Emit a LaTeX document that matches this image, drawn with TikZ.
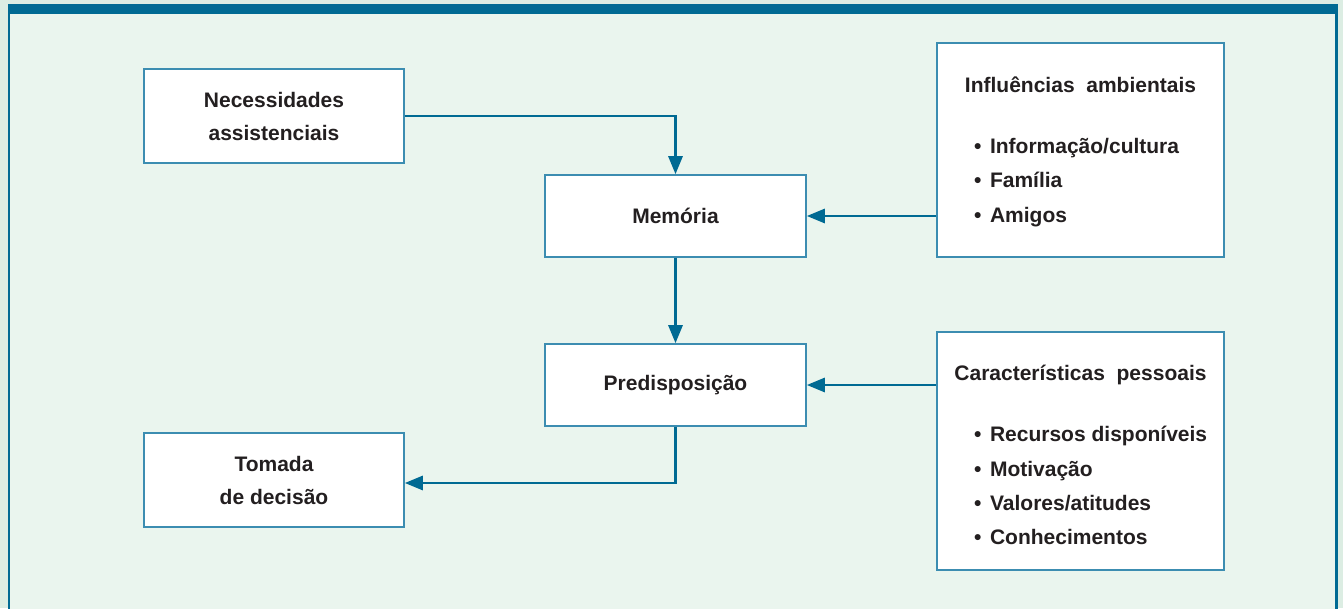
\documentclass[tikz,border=0pt]{standalone}
\usepackage{fontspec}
\setmainfont{Liberation Sans}
\usetikzlibrary{arrows.meta,positioning,calc}
\definecolor{colorLine}{HTML}{006A93}
\definecolor{colorBox}{HTML}{3C8DB1}
\definecolor{colorBg}{HTML}{EAF5EE}
\definecolor{colorOut}{HTML}{DCEDE3}
\definecolor{colorText}{HTML}{231F20}
\newcommand{\itm}[1]{•\hspace{8.5pt}#1}
\tikzset{
   every path/.style={>={Triangle[length=18pt,width=14pt]}},
   box/.style={draw=colorBox,line width=1.6pt,fill=white,align=center,inner sep=0pt},
   lab/.style={text=colorText,font=\bfseries\fontsize{21}{33}\selectfont,inner sep=0pt},
   flow/.style={->,color=colorLine,line width=2.8pt},
}

\begin{document}
\begin{tikzpicture}[x=1pt,y=-1pt]
      \useasboundingbox (0,0) rectangle (1343,608);
      % frame
      \fill[colorOut] (0,0) rectangle (1343,608);
      \fill[colorBg] (9,9) rectangle (1336.5,620);
      \draw[colorLine,line width=2.6pt] (9,620) -- (9,9) -- (1336.5,9) -- (1336.5,620);
      \fill[colorLine] (7.7,4) rectangle (1337.8,14);
      % boxes
      \node[box,lab,minimum width=260pt,minimum height=94pt] (nec) at (274,116) {Necessidades\\assistenciais};
      \node[box,lab,minimum width=261pt,minimum height=82pt] (mem) at (675.5,216) {Memória};
      \node[box,lab,minimum width=261pt,minimum height=82pt] (pre) at (675.5,385) {Predisposição};
      \node[box,lab,minimum width=260pt,minimum height=94pt] (tom) at (274,480) {Tomada\\de decisão};
      \node[box,minimum width=287pt,minimum height=214pt] (inf) at (1080.5,150) {};
      \node[box,minimum width=287pt,minimum height=238pt] (car) at (1080.5,451) {};
      % lists
      \node[lab,anchor=base] (inft) at (1080.5,92) {Influências\ \ ambientais};
      \node[lab,anchor=base west] (inf1) at (974,153) {\itm{Informação/cultura}};
      \node[lab,anchor=base west] (inf2) at (974,187.5) {\itm{Família}};
      \node[lab,anchor=base west] (inf3) at (974,222) {\itm{Amigos}};
      \node[lab,anchor=base] (cart) at (1080.5,380) {Características\ \ pessoais};
      \node[lab,anchor=base west] (car1) at (974,441) {\itm{Recursos disponíveis}};
      \node[lab,anchor=base west] (car2) at (974,476) {\itm{Motivação}};
      \node[lab,anchor=base west] (car3) at (974,510) {\itm{Valores/atitudes}};
      \node[lab,anchor=base west] (car4) at (974,544) {\itm{Conhecimentos}};
      % connectors
      \draw[flow] (nec.east) -| (mem.north);
      \draw[flow] (mem.east -| inf.west) -- (mem.east);
      \draw[flow] (mem.south) -- (pre.north);
      \draw[flow] (pre.east -| car.west) -- (pre.east);
      \draw[flow] (pre.south) |- ([yshift=-3pt]tom.east);
\end{tikzpicture}
\end{document}
